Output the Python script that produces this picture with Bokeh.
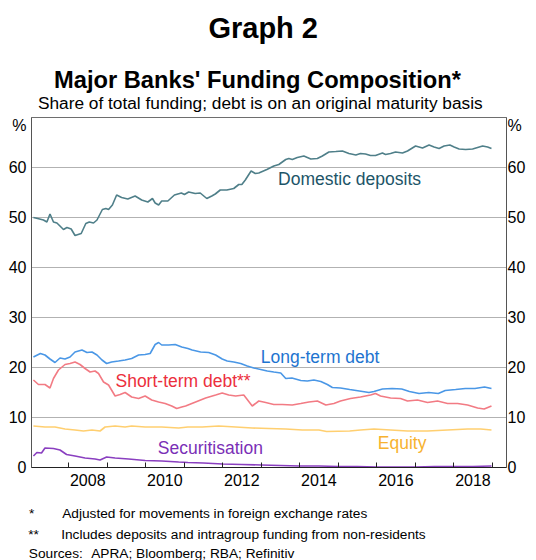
from bokeh.plotting import figure
from bokeh.models import Range1d, FixedTicker, LinearAxis, Label
from bokeh.layouts import column
from bokeh.embed import file_html
from bokeh.resources import INLINE

# ---------------- data ----------------
dd_x = [2007.09, 2007.20, 2007.35, 2007.44, 2007.52, 2007.61, 2007.70, 2007.87, 2007.96, 2008.07,
        2008.17, 2008.33, 2008.45, 2008.54, 2008.65, 2008.74, 2008.88, 2008.97, 2009.04, 2009.14,
        2009.25, 2009.38, 2009.54, 2009.73, 2009.90, 2010.06, 2010.18, 2010.25, 2010.34, 2010.42,
        2010.58, 2010.75, 2010.93, 2011.01, 2011.12, 2011.29, 2011.42, 2011.59, 2011.72, 2011.81,
        2011.94, 2012.11, 2012.29, 2012.42, 2012.50, 2012.59, 2012.74, 2012.85, 2012.94, 2013.15,
        2013.33, 2013.46, 2013.64, 2013.72, 2013.81, 2013.94, 2014.11, 2014.29, 2014.46, 2014.59,
        2014.76, 2014.94, 2015.11, 2015.28, 2015.46, 2015.58, 2015.71, 2015.84, 2015.97, 2016.15,
        2016.23, 2016.36, 2016.49, 2016.67, 2016.80, 2017.01, 2017.19, 2017.36, 2017.49, 2017.62,
        2017.75, 2017.90, 2018.01, 2018.14, 2018.31, 2018.49, 2018.62, 2018.75, 2018.88, 2018.98]
dd_y = [50.0, 49.8, 49.5, 49.1, 50.7, 49.1, 48.9, 47.6, 48.0, 47.7,
        46.4, 46.8, 48.8, 49.1, 48.9, 49.5, 51.6, 51.8, 51.6, 52.5,
        54.5, 54.0, 53.7, 54.3, 53.5, 53.1, 53.8, 52.9, 52.5, 53.3,
        53.3, 54.5, 54.9, 54.6, 55.1, 54.8, 54.9, 53.8, 54.3, 54.7,
        55.5, 55.5, 55.8, 56.6, 56.6, 57.5, 59.3, 58.8, 58.9, 59.6,
        60.3, 60.6, 61.6, 61.8, 61.6, 62.0, 62.3, 61.7, 61.8, 62.3,
        63.1, 63.2, 63.3, 62.8, 62.5, 62.8, 62.7, 62.4, 62.4, 62.9,
        62.6, 62.8, 63.1, 62.9, 63.3, 64.3, 63.9, 64.5, 64.1, 63.8,
        64.3, 64.5, 64.1, 63.7, 63.6, 63.7, 64.0, 64.3, 64.1, 63.8]

lt_x = [2007.09, 2007.27, 2007.39, 2007.52, 2007.65, 2007.78, 2007.91, 2008.04, 2008.17, 2008.35,
        2008.48, 2008.61, 2008.74, 2008.87, 2008.99, 2009.12, 2009.30, 2009.47, 2009.64, 2009.82,
        2009.99, 2010.12, 2010.25, 2010.34, 2010.42, 2010.60, 2010.77, 2010.94, 2011.10, 2011.21,
        2011.43, 2011.64, 2011.82, 2011.99, 2012.12, 2012.29, 2012.47, 2012.64, 2012.81, 2012.99,
        2013.16, 2013.33, 2013.51, 2013.64, 2013.80, 2014.03, 2014.20, 2014.37, 2014.55, 2014.72,
        2014.85, 2015.06, 2015.30, 2015.55, 2015.80, 2015.93, 2016.15, 2016.40, 2016.65, 2016.85,
        2017.10, 2017.35, 2017.60, 2017.78, 2018.05, 2018.30, 2018.55, 2018.80, 2018.98]
lt_y = [22.1, 22.8, 22.5, 21.7, 21.0, 21.9, 21.7, 22.1, 23.1, 23.5,
        23.0, 23.1, 22.5, 21.5, 20.8, 21.1, 21.3, 21.5, 21.8, 22.5,
        22.6, 22.8, 24.6, 25.0, 24.5, 24.5, 24.6, 24.1, 23.8, 23.5,
        23.1, 23.0, 22.5, 21.7, 21.3, 21.1, 20.8, 20.3, 19.9, 19.6,
        19.3, 19.1, 18.9, 17.8, 17.9, 17.4, 17.3, 17.5, 17.2, 16.6,
        16.0, 15.9, 15.6, 15.3, 15.0, 15.2, 15.7, 15.8, 15.7, 15.2,
        14.8, 15.0, 14.8, 15.4, 15.6, 15.8, 15.8, 16.1, 15.8]

st_x = [2007.09, 2007.22, 2007.39, 2007.52, 2007.61, 2007.74, 2007.91, 2008.04, 2008.17, 2008.30,
        2008.43, 2008.56, 2008.69, 2008.78, 2008.91, 2009.04, 2009.21, 2009.34, 2009.47, 2009.64,
        2009.82, 2009.99, 2010.16, 2010.34, 2010.51, 2010.68, 2010.81, 2010.94, 2011.04, 2011.30,
        2011.56, 2011.82, 2011.99, 2012.16, 2012.34, 2012.55, 2012.77, 2012.94, 2013.12, 2013.33,
        2013.55, 2013.81, 2014.03, 2014.24, 2014.46, 2014.68, 2014.89, 2015.06, 2015.32, 2015.58,
        2015.84, 2015.97, 2016.10, 2016.36, 2016.62, 2016.80, 2017.06, 2017.32, 2017.58, 2017.84,
        2018.10, 2018.36, 2018.62, 2018.79, 2018.98]
st_y = [17.5, 16.6, 16.6, 15.9, 17.8, 19.5, 20.6, 20.8, 21.1, 20.6,
        19.8, 19.1, 19.3, 18.8, 17.1, 16.5, 14.3, 14.6, 15.0, 14.1,
        13.8, 14.3, 13.5, 13.1, 12.8, 12.3, 11.8, 12.1, 12.3, 13.1,
        13.9, 14.5, 14.9, 14.5, 14.3, 14.5, 12.3, 13.3, 13.0, 12.6,
        12.6, 12.5, 12.8, 13.1, 13.3, 12.5, 12.8, 13.3, 13.8, 14.1,
        14.5, 14.8, 14.3, 13.9, 13.8, 13.3, 13.5, 13.0, 13.3, 12.8,
        12.8, 12.5, 11.9, 11.7, 12.3]

eq_x = [2007.09, 2007.39, 2007.65, 2007.91, 2008.17, 2008.39, 2008.61, 2008.82, 2008.95, 2009.21,
        2009.47, 2009.64, 2009.99, 2010.42, 2010.86, 2011.10, 2011.47, 2011.90, 2012.34, 2012.77,
        2013.20, 2013.64, 2014.07, 2014.50, 2014.70, 2015.30, 2015.58, 2015.93, 2016.36, 2016.80,
        2017.32, 2017.84, 2018.36, 2018.70, 2018.98]
eq_y = [8.3, 8.1, 8.1, 7.7, 7.5, 7.3, 7.5, 7.3, 8.1, 8.3,
        8.1, 8.3, 8.1, 8.1, 7.9, 8.1, 8.1, 8.3, 8.1, 7.9,
        7.8, 7.7, 7.5, 7.5, 7.2, 7.3, 7.5, 7.7, 7.5, 7.3,
        7.3, 7.5, 7.7, 7.7, 7.5]

sec_x = [2007.09, 2007.18, 2007.30, 2007.39, 2007.61, 2007.78, 2007.95, 2008.17, 2008.43, 2008.69,
         2008.82, 2008.99, 2009.21, 2009.56, 2009.99, 2010.42, 2010.86, 2011.10, 2011.50, 2012.00,
         2012.50, 2013.00, 2013.50, 2014.00, 2014.50, 2015.00, 2015.50, 2016.00, 2016.50, 2017.00,
         2017.50, 2018.00, 2018.50, 2018.98]
sec_y = [2.3, 3.0, 2.9, 3.9, 3.8, 3.5, 2.6, 2.3, 1.9, 1.7,
         1.5, 2.1, 1.9, 1.7, 1.4, 1.3, 1.1, 1.0, 0.9, 0.7,
         0.6, 0.5, 0.4, 0.3, 0.3, 0.2, 0.2, 0.1, 0.1, 0.1,
         0.2, 0.2, 0.2, 0.3]

y_ticks = [0, 10, 20, 30, 40, 50, 60]
y_unit = "%"
year_ticks = [2008, 2009, 2010, 2011, 2012, 2013, 2014, 2015, 2016, 2017, 2018, 2019]
year_labels = ["2008", "2010", "2012", "2014", "2016", "2018"]

FONT = "Liberation Sans"
W = 536
BL, BR = 31, 30


def text_panel(height, y_top):
    # frame covers the whole panel; x/y ranges equal page pixel coordinates
    f = figure(width=W, height=height, output_backend="svg", toolbar_location=None,
               x_range=Range1d(0, W), y_range=Range1d(y_top + height, y_top),
               min_border=0, x_axis_location=None, y_axis_location=None)
    try:
        f.frame_align = False
    except Exception:
        pass
    f.title.visible = False
    f.outline_line_color = None
    f.xgrid.visible = False
    f.ygrid.visible = False
    return f


def lab(fig, x, y, text, color, size, align="left", bold=False):
    fig.add_layout(Label(x=x, y=y, text=text, text_color=color, text_font=FONT,
                         text_font_size=size, text_align=align, text_baseline="middle",
                         text_font_style="bold" if bold else "normal"))


# ---------------- title panel ----------------
top = text_panel(112, 0)
lab(top, 262.7, 27.2, "Graph 2", "black", "29px", "center", True)
lab(top, 257.0, 79.2, "Major Banks' Funding Composition*", "black", "23.7px", "center", True)
lab(top, 259.8, 102.5, "Share of total funding; debt is on an original maturity basis", "black", "17.3px", "center")

# ---------------- main chart ----------------
p = figure(width=W, height=388, output_backend="svg", toolbar_location=None,
           x_range=Range1d(2007.04, 2019.37), y_range=Range1d(0, 70),
           min_border_left=BL, min_border_right=BR, min_border_top=5, min_border_bottom=33,
           y_axis_location=None)
p.title.visible = False
p.outline_line_color = "#6e6e6e"
p.outline_line_width = 1

p.xgrid.visible = False
p.ygrid.ticker = FixedTicker(ticks=y_ticks[1:])
p.ygrid.grid_line_color = "#b2b2b2"
p.ygrid.grid_line_width = 1

unit_pos = 68.4
for side, standoff in (("left", 5), ("right", 1)):
    ax = LinearAxis(ticker=FixedTicker(ticks=y_ticks + [unit_pos]))
    ax.major_label_overrides = {unit_pos: y_unit}
    ax.major_tick_in = 0
    ax.major_tick_out = 0
    ax.minor_tick_in = 0
    ax.minor_tick_out = 0
    ax.axis_line_color = "#555555"
    ax.major_label_standoff = standoff
    ax.major_label_text_font = FONT
    ax.major_label_text_font_size = "16px"
    ax.major_label_text_color = "black"
    p.add_layout(ax, side)

label_pos = [float(y) + 0.5 for y in year_labels]
xa = p.xaxis[0]
xa.ticker = FixedTicker(ticks=label_pos, minor_ticks=year_ticks)
xa.major_label_overrides = {pos: lab_ for pos, lab_ in zip(label_pos, year_labels)}
xa.major_tick_in = 0
xa.major_tick_out = 0
xa.minor_tick_in = 5
xa.minor_tick_out = 0
xa.minor_tick_line_color = "#222222"
xa.axis_line_color = "#222222"
xa.major_label_standoff = 6
xa.major_label_text_font = FONT
xa.major_label_text_font_size = "16px"
xa.major_label_text_color = "black"

p.line(eq_x, eq_y, line_color="#ffcf70", line_width=1.6)
p.line(sec_x, sec_y, line_color="#8a3fc0", line_width=1.6)
p.line(st_x, st_y, line_color="#f27b84", line_width=1.6)
p.line(lt_x, lt_y, line_color="#4a97e6", line_width=1.6)
p.line(dd_x, dd_y, line_color="#4f7f89", line_width=1.6)

lab(p, 2013.44, 57.7, "Domestic deposits", "#1d5568", "17.5px")
lab(p, 2012.99, 22.2, "Long-term debt", "#1e74d0", "17.5px")
lab(p, 2009.22, 17.3, "Short-term debt**", "#ec2f3d", "17.5px")
lab(p, 2010.32, 3.9, "Securitisation", "#7a2fb6", "17.5px")
lab(p, 2016.03, 4.9, "Equity", "#f7b22f", "17.5px")

# ---------------- footnote panel ----------------
bot = text_panel(60, 500)
lab(bot, 28.5, 513.0, "*", "black", "13.7px")
lab(bot, 61.7, 513.0, "Adjusted for movements in foreign exchange rates", "black", "13.7px")
lab(bot, 27.7, 533.7, "**", "black", "13.7px")
lab(bot, 60.7, 533.7, "Includes deposits and intragroup funding from non-residents", "black", "13.7px")
lab(bot, 28.3, 552.5, "Sources:", "black", "13.7px")
lab(bot, 90.7, 552.5, "APRA; Bloomberg; RBA; Refinitiv", "black", "13.7px")

layout = column(top, p, bot, spacing=0)
open("out.html", "w").write(file_html(layout, INLINE))
